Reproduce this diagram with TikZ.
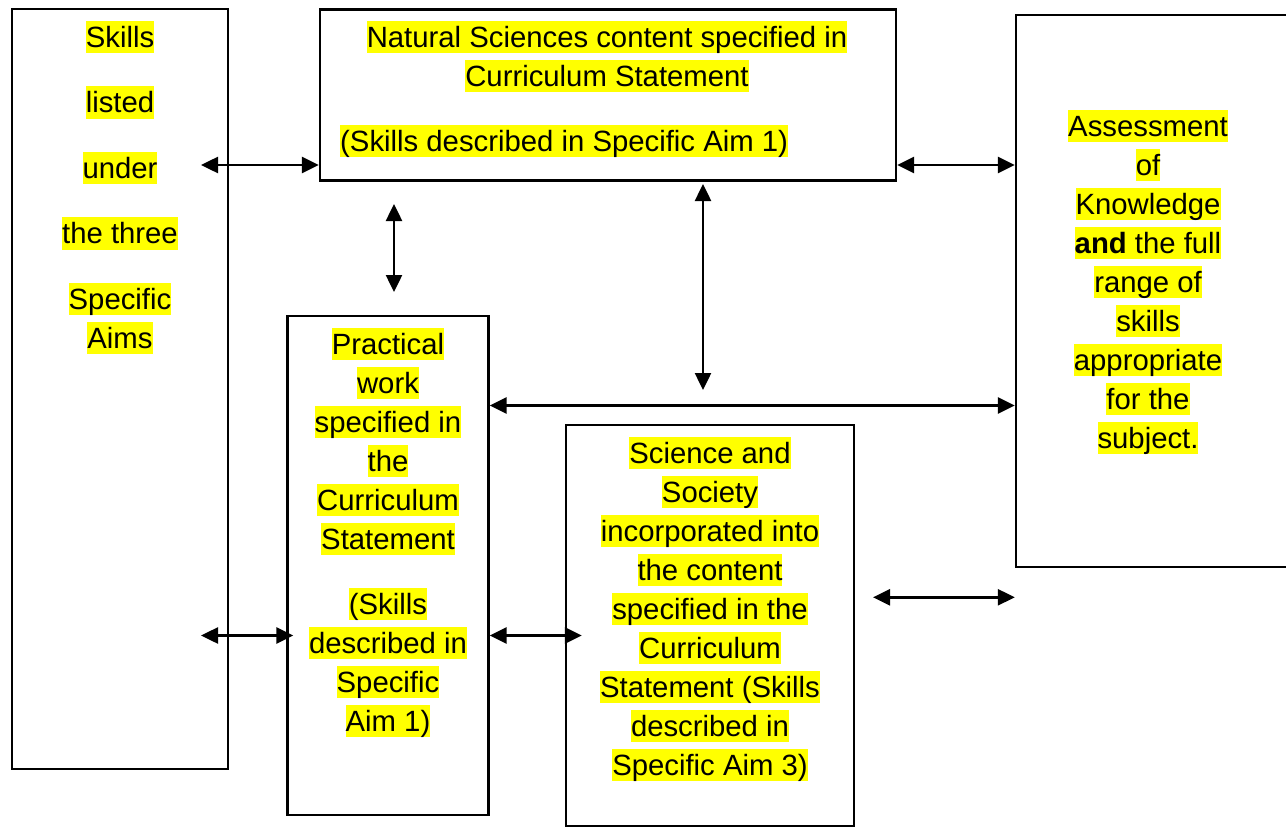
\documentclass[tikz,border=0pt]{standalone}
\usepackage{fontspec}
\setmainfont{Liberation Sans}
\usetikzlibrary{arrows.meta}
\definecolor{hly}{RGB}{255,255,0}
\newcommand{\hl}[1]{{\setlength{\fboxsep}{0pt}\colorbox{hly}{\rule[-0.212em]{0pt}{1.117em}#1}}}

\begin{document}
\begin{tikzpicture}[>={Triangle[length=17pt,width=16pt]},x=1pt,y=-1pt,
  box/.style={draw,line width=2.3pt,inner sep=0pt},
  txt/.style={inner sep=0pt,align=center,anchor=north,font=\fontsize{29.3}{39}\selectfont},
  link/.style={<->,line width=2.5pt}]
\clip(0,0) rectangle (1286,827);
\node[box,minimum width=216,minimum height=760] (skills) at (120,389) {};
\node[box,minimum width=576,minimum height=171] (nat) at (608,95) {};
\node[box,minimum width=274,minimum height=552] (assess) at (1153,291) {};
\node[box,minimum width=201,minimum height=499] (prac) at (388,565.5) {};
\node[box,minimum width=288,minimum height=401] (sci) at (710,625.5) {};
\node[txt] (skillstxt) at (120,20.3) {\hl{Skills}\\[26.5pt]\hl{listed}\\[26.5pt]\hl{under}\\[26.5pt]\hl{the three}\\[26.5pt]\hl{Specific}\\\hl{Aims}};
\node[txt] (nattxt) at (607,20.3) {\hl{Natural Sciences content specified in}\\\hl{Curriculum Statement}};
\node[txt,anchor=north west] (natsub) at (340,124.3) {\hl{(Skills described in Specific Aim 1)}};
\node[txt] (assesstxt) at (1148,109.5) {\hl{Assessment}\\\hl{of}\\\hl{Knowledge}\\\hl{\textbf{and} the full}\\\hl{range of}\\\hl{skills}\\\hl{appropriate}\\\hl{for the}\\\hl{subject.}};
\node[txt] (practxt) at (388,327.3) {\hl{Practical}\\\hl{work}\\\hl{specified in}\\\hl{the}\\\hl{Curriculum}\\\hl{Statement}\\[26pt]\hl{(Skills}\\\hl{described in}\\\hl{Specific}\\\hl{Aim 1)}};
\node[txt] (scitxt) at (710,436.3) {\hl{Science and}\\\hl{Society}\\\hl{incorporated into}\\\hl{the content}\\\hl{specified in the}\\\hl{Curriculum}\\\hl{Statement (Skills}\\\hl{described in}\\\hl{Specific Aim 3)}};
\coordinate (s1) at (201,165);
\coordinate (v1) at (394,204);
\coordinate (v2) at (394,292);
\coordinate (v3) at (703,184);
\coordinate (v4) at (703,390);
\coordinate (h1) at (0,405.5);
\coordinate (s3) at (201,635.5);
\coordinate (s5) at (873,597.3);
\draw[link] (s1) -- (nat.west |- s1);
\draw[link] (nat.east |- s1) -- (assess.west |- s1);
\draw[link] (v1) -- (v2);
\draw[link] (v3) -- (v4);
\draw[link] (prac.east |- h1) -- (assess.west |- h1);
\draw[link,shorten >=-7pt] (s3) -- (prac.west |- s3);
\draw[link,shorten >=-17pt] (prac.east |- s3) -- (sci.west |- s3);
\draw[link] (s5) -- (assess.west |- s5);
\end{tikzpicture}
\end{document}
